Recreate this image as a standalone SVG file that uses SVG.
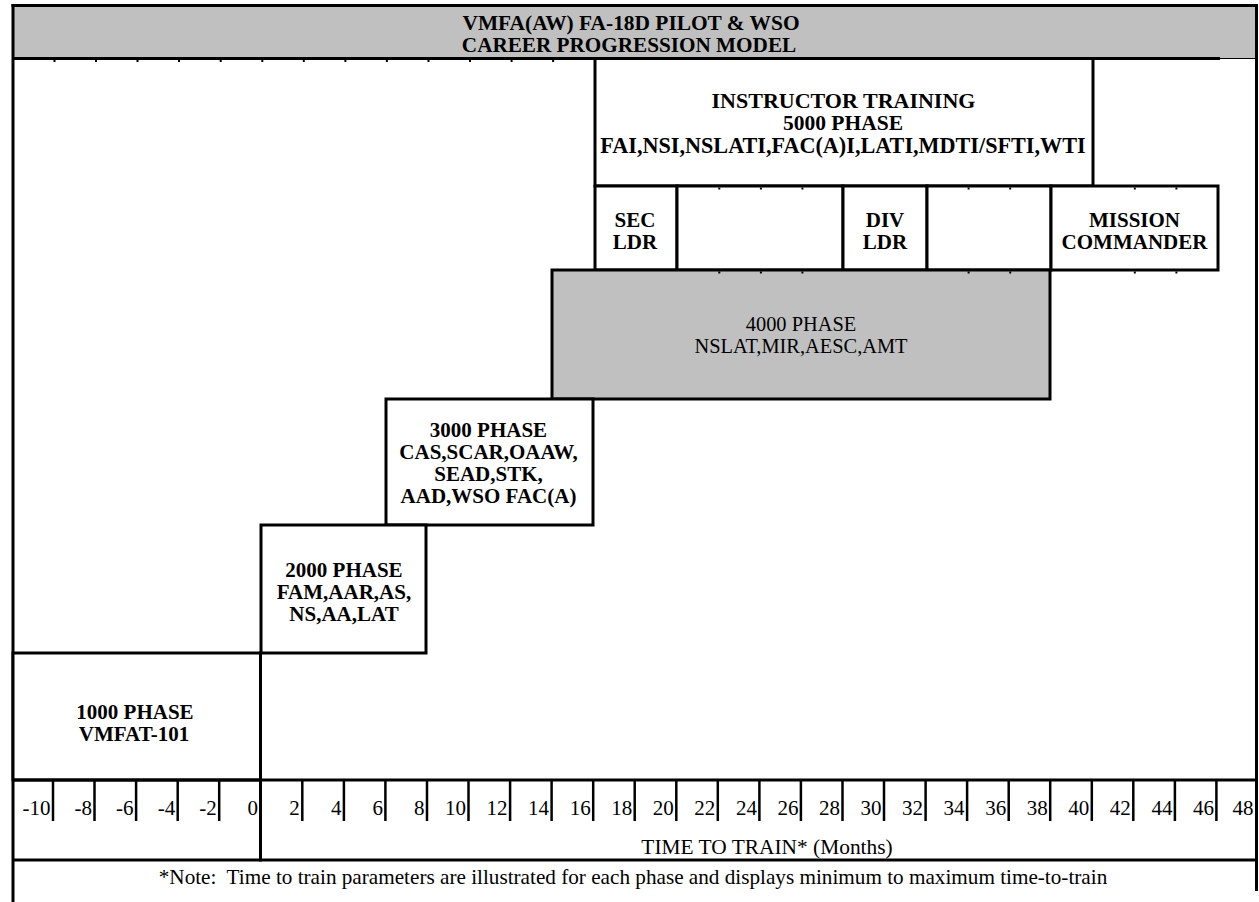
<svg xmlns="http://www.w3.org/2000/svg" width="1259" height="902" viewBox="0 0 1259 902">
<style>
.ln{stroke:#000;stroke-width:3;fill:none}
.bx{stroke:#000;stroke-width:3;fill:#fff}
.gy{stroke:#000;stroke-width:3;fill:#c0c0c0}
.tk{stroke:#000;stroke-width:2.5}
.st{stroke:#000;stroke-width:2}
.b{font-family:"Liberation Serif","Times New Roman",serif;font-weight:bold;font-size:21px;text-anchor:middle;fill:#000}
.r{font-family:"Liberation Serif","Times New Roman",serif;font-size:20px;fill:#000}
.n{font-size:21px}
.c{text-anchor:middle}
.e{text-anchor:end}
</style>
<rect x="0" y="0" width="1259" height="902" fill="#fff"/>
<g id="header">
<rect x="13" y="6" width="1243.5" height="52.5" fill="#c0c0c0"/>
<line class="ln" x1="11.5" y1="5.5" x2="1258" y2="5.5"/>
<line class="ln" x1="13" y1="58.5" x2="1220" y2="58.5"/>
<line stroke="#000" stroke-width="1" x1="1220" y1="58.5" x2="1256.5" y2="58.5"/>
<text class="b" x="631" y="29.5" style="font-size:21.4px">VMFA(AW) FA-18D PILOT &amp; WSO</text>
<text class="b" x="629" y="51.5" style="font-size:21.2px">CAREER PROGRESSION MODEL</text>
</g>
<g id="frame">
<line class="ln" x1="13" y1="4" x2="13" y2="902"/>
<line class="ln" x1="1256.5" y1="4" x2="1256.5" y2="891"/>
</g>
<g id="instructor">
<rect class="bx" x="595" y="58.5" width="498" height="127.5"/>
<text class="b" x="843.5" y="107.5" style="font-size:22px">INSTRUCTOR TRAINING</text>
<text class="b" x="843" y="129.5" style="font-size:21.5px">5000 PHASE</text>
<text class="b" x="843" y="152.5" style="font-size:22.2px">FAI,NSI,NSLATI,FAC(A)I,LATI,MDTI/SFTI,WTI</text>
</g>
<g id="sec_ldr">
<rect class="bx" x="595" y="186" width="82" height="84"/>
<text class="b" x="635" y="226.5">SEC</text>
<text class="b" x="635" y="248.5">LDR</text>
</g>
<g id="blank1">
<rect class="bx" x="677" y="186" width="166" height="84"/>
</g>
<g id="div_ldr">
<rect class="bx" x="843" y="186" width="84" height="84"/>
<text class="b" x="885" y="226.5">DIV</text>
<text class="b" x="885" y="248.5">LDR</text>
</g>
<g id="blank2">
<rect class="bx" x="927" y="186" width="124" height="84"/>
</g>
<g id="mission">
<rect class="bx" x="1051" y="186" width="167" height="84"/>
<text class="b" x="1134.5" y="226.5">MISSION</text>
<text class="b" x="1134.5" y="248.5">COMMANDER</text>
</g>
<g id="phase4000">
<rect class="gy" x="552" y="270" width="498" height="129"/>
<text class="r c" x="801" y="330.5" style="font-size:20.4px">4000 PHASE</text>
<text class="r c" x="801" y="352.5" style="font-size:20.4px">NSLAT,MIR,AESC,AMT</text>
</g>
<g id="phase3000">
<rect class="bx" x="386" y="399" width="207" height="126"/>
<text class="b" x="488.5" y="437">3000 PHASE</text>
<text class="b" x="488.5" y="459">CAS,SCAR,OAAW,</text>
<text class="b" x="488.5" y="481">SEAD,STK,</text>
<text class="b" x="488.5" y="503">AAD,WSO FAC(A)</text>
</g>
<g id="phase2000">
<rect class="bx" x="261" y="525" width="165" height="128"/>
<text class="b" x="344" y="577">2000 PHASE</text>
<text class="b" x="344" y="599">FAM,AAR,AS,</text>
<text class="b" x="344" y="621">NS,AA,LAT</text>
</g>
<g id="phase1000">
<rect class="bx" x="13" y="653" width="247.5" height="127"/>
<text class="b" x="135" y="719">1000 PHASE</text>
<text class="b" x="134" y="741">VMFAT-101</text>
</g>
<g id="connectors">
<g class="st">
<line x1="54.5" y1="60" x2="54.5" y2="62"/><line x1="96" y1="60" x2="96" y2="62"/><line x1="137.5" y1="60" x2="137.5" y2="62"/><line x1="179" y1="60" x2="179" y2="62"/><line x1="220.7" y1="60" x2="220.7" y2="62"/><line x1="262.3" y1="60" x2="262.3" y2="62"/><line x1="303.8" y1="60" x2="303.8" y2="62"/><line x1="345.4" y1="60" x2="345.4" y2="62"/><line x1="386.9" y1="60" x2="386.9" y2="62"/><line x1="428.5" y1="60" x2="428.5" y2="62"/><line x1="470" y1="60" x2="470" y2="62"/><line x1="511.6" y1="60" x2="511.6" y2="62"/><line x1="553.1" y1="60" x2="553.1" y2="62"/>
<line x1="719.3" y1="187.5" x2="719.3" y2="189.5"/><line x1="760.9" y1="187.5" x2="760.9" y2="189.5"/><line x1="802.4" y1="187.5" x2="802.4" y2="189.5"/><line x1="968.6" y1="187.5" x2="968.6" y2="189.5"/><line x1="1010.2" y1="187.5" x2="1010.2" y2="189.5"/><line x1="1134.8" y1="187.5" x2="1134.8" y2="189.5"/><line x1="1176.4" y1="187.5" x2="1176.4" y2="189.5"/>
<line x1="719.3" y1="271.5" x2="719.3" y2="273.5"/><line x1="760.9" y1="271.5" x2="760.9" y2="273.5"/><line x1="802.4" y1="271.5" x2="802.4" y2="273.5"/><line x1="968.6" y1="271.5" x2="968.6" y2="273.5"/><line x1="1010.2" y1="271.5" x2="1010.2" y2="273.5"/><line x1="1134.8" y1="271.5" x2="1134.8" y2="273.5"/><line x1="1176.4" y1="271.5" x2="1176.4" y2="273.5"/>
</g>
<line class="ln" x1="13" y1="780" x2="1256.5" y2="780"/>
<line class="ln" x1="13" y1="860" x2="1256.5" y2="860"/>
<line class="ln" x1="260.5" y1="651.5" x2="260.5" y2="861.5"/>
<g class="tk">
<line x1="53" y1="781" x2="53" y2="821"/><line x1="94.5" y1="781" x2="94.5" y2="821"/><line x1="136.1" y1="781" x2="136.1" y2="821"/><line x1="177.7" y1="781" x2="177.7" y2="821"/><line x1="219.2" y1="781" x2="219.2" y2="821"/>
<line x1="302.3" y1="781" x2="302.3" y2="821"/><line x1="343.9" y1="781" x2="343.9" y2="821"/><line x1="385.4" y1="781" x2="385.4" y2="821"/><line x1="427" y1="781" x2="427" y2="821"/><line x1="468.5" y1="781" x2="468.5" y2="821"/><line x1="510.1" y1="781" x2="510.1" y2="821"/><line x1="551.6" y1="781" x2="551.6" y2="821"/><line x1="593.2" y1="781" x2="593.2" y2="821"/><line x1="634.7" y1="781" x2="634.7" y2="821"/><line x1="676.3" y1="781" x2="676.3" y2="821"/><line x1="717.8" y1="781" x2="717.8" y2="821"/><line x1="759.4" y1="781" x2="759.4" y2="821"/><line x1="800.9" y1="781" x2="800.9" y2="821"/><line x1="842.5" y1="781" x2="842.5" y2="821"/><line x1="884" y1="781" x2="884" y2="821"/><line x1="925.6" y1="781" x2="925.6" y2="821"/><line x1="967.1" y1="781" x2="967.1" y2="821"/><line x1="1008.7" y1="781" x2="1008.7" y2="821"/><line x1="1050.2" y1="781" x2="1050.2" y2="821"/><line x1="1091.8" y1="781" x2="1091.8" y2="821"/><line x1="1133.3" y1="781" x2="1133.3" y2="821"/><line x1="1174.9" y1="781" x2="1174.9" y2="821"/><line x1="1216.4" y1="781" x2="1216.4" y2="821"/>
</g>
</g>
<g id="axis-labels" class="r e n">
<text x="50.5" y="815">-10</text><text x="92" y="815">-8</text><text x="133.6" y="815">-6</text><text x="175.2" y="815">-4</text><text x="216.7" y="815">-2</text><text x="258" y="815">0</text>
<text x="299.8" y="815">2</text><text x="341.4" y="815">4</text><text x="382.9" y="815">6</text><text x="424.5" y="815">8</text><text x="466" y="815">10</text><text x="507.6" y="815">12</text><text x="549.1" y="815">14</text><text x="590.7" y="815">16</text><text x="632.2" y="815">18</text><text x="673.8" y="815">20</text><text x="715.3" y="815">22</text><text x="756.9" y="815">24</text><text x="798.4" y="815">26</text><text x="840" y="815">28</text><text x="881.5" y="815">30</text><text x="923.1" y="815">32</text><text x="964.6" y="815">34</text><text x="1006.2" y="815">36</text><text x="1047.7" y="815">38</text><text x="1089.3" y="815">40</text><text x="1130.8" y="815">42</text><text x="1172.4" y="815">44</text><text x="1213.9" y="815">46</text><text x="1253.5" y="815">48</text>
</g>
<g id="axis-title">
<text class="r c" x="767" y="854" style="font-size:21.4px">TIME TO TRAIN* (Months)</text>
<text class="r c" x="633" y="883.5" xml:space="preserve" style="font-size:21.2px">*Note:  Time to train parameters are illustrated for each phase and displays minimum to maximum time-to-train</text>
</g>
</svg>
